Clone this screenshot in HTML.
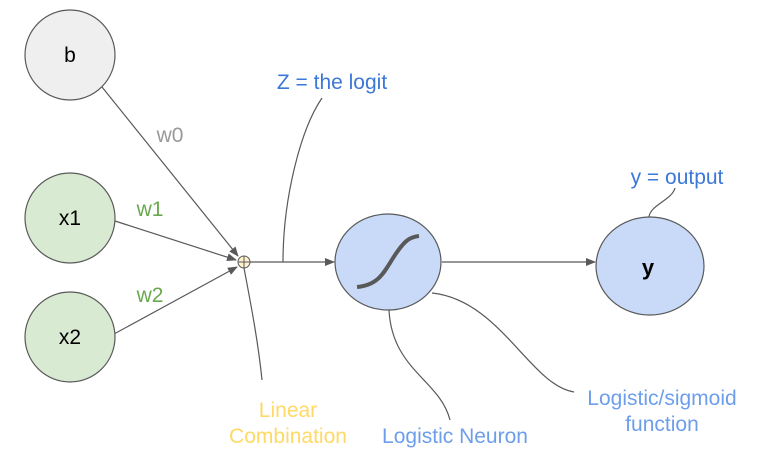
<!DOCTYPE html>
<html><head><meta charset="utf-8"><style>
html,body{margin:0;padding:0;background:#fff;}
svg{display:block;font-family:"Liberation Sans",Arial,sans-serif;}
</style></head><body>
<svg width="770" height="472" viewBox="0 0 770 472">
<defs>
<marker id="ah" markerWidth="10" markerHeight="8" refX="9" refY="4" orient="auto" markerUnits="userSpaceOnUse">
<path d="M0,0 L10,4 L0,8 z" fill="#595959"/></marker>
</defs>
<g stroke="#595959" stroke-width="1.2" fill="none">
<line x1="102" y1="87" x2="238" y2="256" marker-end="url(#ah)"/>
<line x1="115" y1="221" x2="236" y2="260" marker-end="url(#ah)"/>
<line x1="114" y1="334" x2="237" y2="267" marker-end="url(#ah)"/>
<line x1="250" y1="262" x2="334" y2="262" marker-end="url(#ah)"/>
<line x1="442" y1="262" x2="595" y2="262" marker-end="url(#ah)"/>
<path d="M283,262 C283,200 300,130 322,98"/>
<path d="M244,268 C250,300 258,340 262,380"/>
<path d="M389,310 C392,370 440,380 450,420"/>
<path d="M432,293 C500,300 530,385 574,392"/>
<path d="M649,217 C650,205 672,200 675,188"/>
</g>
<ellipse cx="70" cy="55" rx="45" ry="45" fill="#efefef" stroke="#595959" stroke-width="1.2"/>
<ellipse cx="70" cy="218" rx="45" ry="45" fill="#d9ead3" stroke="#595959" stroke-width="1.2"/>
<ellipse cx="70" cy="337" rx="45" ry="45" fill="#d9ead3" stroke="#595959" stroke-width="1.2"/>
<circle cx="244" cy="262" r="6" fill="#fff2cc" stroke="#595959" stroke-width="1"/>
<path d="M238,262 H250 M244,256 V268" stroke="#595959" stroke-width="1"/>
<ellipse cx="388" cy="262" rx="53" ry="48" fill="#c9daf8" stroke="#595959" stroke-width="1.2"/>
<path d="M357,287 C380,285 385,270 395,255 C405,240 410,237 419,236" stroke="#595959" stroke-width="4" fill="none"/>
<ellipse cx="650" cy="266" rx="54" ry="49" fill="#c9daf8" stroke="#595959" stroke-width="1.2"/>
<g font-size="21" text-anchor="middle">
<text x="70" y="62" fill="#000">b</text>
<text x="70" y="225" fill="#000">x1</text>
<text x="70" y="344" fill="#000">x2</text>
<text x="648" y="275" fill="#000" font-weight="bold" font-size="22">y</text>
<text x="170" y="142" fill="#999999">w0</text>
<text x="150" y="216" fill="#6aa84f">w1</text>
<text x="150" y="302" fill="#6aa84f">w2</text>
<text x="332" y="89" fill="#3c78d8">Z = the logit</text>
<text x="677" y="184" fill="#3c78d8">y = output</text>
<text x="288" y="417" fill="#ffd966">Linear</text>
<text x="288" y="443" fill="#ffd966">Combination</text>
<text x="455" y="443" fill="#6d9eeb">Logistic Neuron</text>
<text x="662" y="405" fill="#6d9eeb">Logistic/sigmoid</text>
<text x="662" y="431" fill="#6d9eeb">function</text>
</g>
</svg>
</body></html>
